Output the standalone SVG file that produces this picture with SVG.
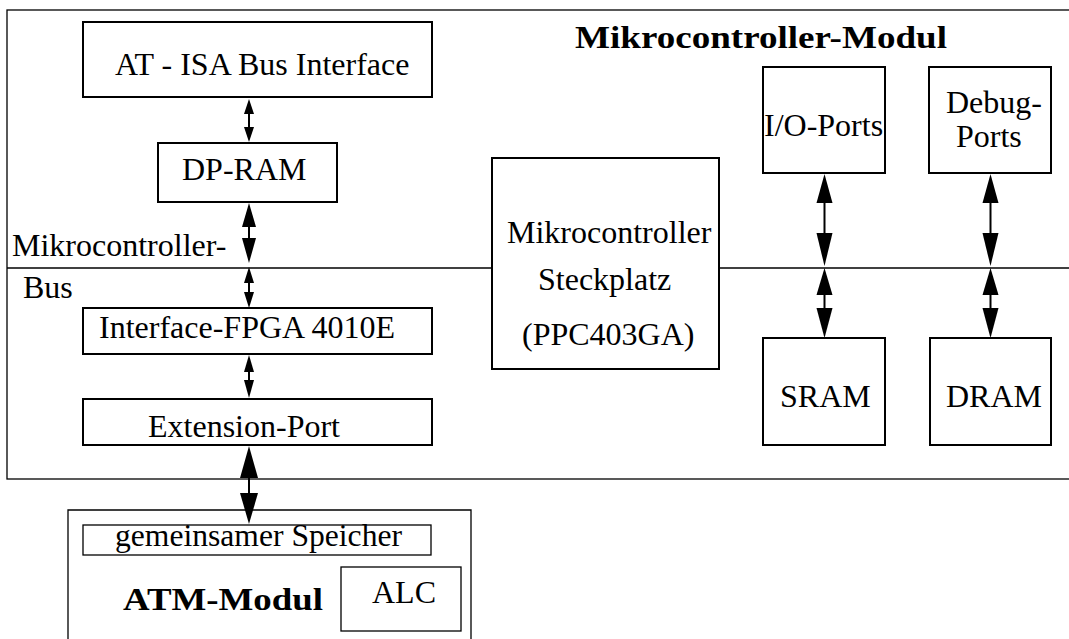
<svg xmlns="http://www.w3.org/2000/svg" width="1069" height="639" viewBox="0 0 1069 639">
<style>
.frame{fill:none;stroke:#000;stroke-width:1.3}
.box{fill:#fff;stroke:#000;stroke-width:2}
.thin{fill:#fff;stroke:#000;stroke-width:1.3}
.bus{stroke:#000;stroke-width:1.3;fill:none}
.shaft{stroke:#000;stroke-width:2;fill:none}
.head{fill:#000;stroke:none}
text{font-family:"Liberation Serif","Times New Roman",serif;fill:#000;font-size:32px}
.b{font-weight:bold}
</style>
<rect width="1069" height="639" fill="#fff"/>
<g id="mc-modul">
<rect class="frame" x="7" y="10" width="1075" height="469"/>
<text class="b" x="575" y="48" font-size="33" textLength="372" lengthAdjust="spacingAndGlyphs">Mikrocontroller-Modul</text>
</g>
<g id="bus">
<line class="bus" x1="7" y1="268" x2="492" y2="268"/>
<line class="bus" x1="719" y1="268" x2="1069" y2="268"/>
<text x="12" y="256">Mikrocontroller-</text>
<text x="23" y="298">Bus</text>
</g>
<g id="atm-modul">
<path class="frame" d="M68,645 V510 H471 V645"/>
<text class="b" x="123" y="610" font-size="33" textLength="200" lengthAdjust="spacingAndGlyphs">ATM-Modul</text>
</g>
<g id="at-isa">
<rect class="box" x="83" y="22" width="349" height="75"/>
<text x="115" y="75" font-size="31">AT - ISA Bus Interface</text>
</g>
<g id="dp-ram">
<rect class="box" x="158" y="143" width="179" height="59"/>
<text x="182" y="180" font-size="33">DP-RAM</text>
</g>
<g id="fpga">
<rect class="box" x="83" y="308" width="349" height="46"/>
<text x="99" y="338">Interface-FPGA 4010E</text>
</g>
<g id="ext-port">
<rect class="box" x="83" y="399" width="349" height="46"/>
<text x="148" y="437">Extension-Port</text>
</g>
<g id="mc-slot">
<rect class="box" x="492" y="158" width="227" height="211"/>
<text x="507" y="243">Mikrocontroller</text>
<text x="538" y="290">Steckplatz</text>
<text x="522" y="345">(PPC403GA)</text>
</g>
<g id="io-ports">
<rect class="box" x="763" y="67" width="122" height="106"/>
<text x="764" y="136">I/O-Ports</text>
</g>
<g id="debug-ports">
<rect class="box" x="929" y="67" width="122" height="106"/>
<text x="946" y="113">Debug-</text>
<text x="956" y="147">Ports</text>
</g>
<g id="sram">
<rect class="box" x="763" y="338" width="122" height="107"/>
<text x="780" y="407">SRAM</text>
</g>
<g id="dram">
<rect class="box" x="930" y="338" width="121" height="107"/>
<text x="946" y="407">DRAM</text>
</g>
<g id="gem-speicher">
<rect class="thin" x="83" y="525" width="348" height="30"/>
<text x="115" y="546" font-size="23" textLength="287" lengthAdjust="spacingAndGlyphs">gemeinsamer Speicher</text>
</g>
<g id="alc">
<rect class="thin" x="341" y="567" width="120" height="64"/>
<text x="372" y="603" font-size="28">ALC</text>
</g>
<g id="connectors">
<!-- AT-ISA <-> DP-RAM -->
<line class="shaft" x1="249" y1="110" x2="249" y2="130"/>
<path class="head" d="M249,99 L254,114 L244,114 Z"/>
<path class="head" d="M249,142 L254,127 L244,127 Z"/>
<!-- DP-RAM <-> Bus -->
<line class="shaft" x1="249" y1="222" x2="249" y2="243"/>
<path class="head" d="M249,203 L256,227 L242,227 Z"/>
<path class="head" d="M249,263 L256,238 L242,238 Z"/>
<!-- Bus <-> FPGA -->
<line class="shaft" x1="249" y1="280" x2="249" y2="295"/>
<path class="head" d="M249,267 L254,283 L244,283 Z"/>
<path class="head" d="M249,308 L254,292 L244,292 Z"/>
<!-- FPGA <-> Extension-Port -->
<line class="shaft" x1="249" y1="368" x2="249" y2="384"/>
<path class="head" d="M249,355 L254,372 L244,372 Z"/>
<path class="head" d="M249,398 L254,380 L244,380 Z"/>
<!-- Extension-Port <-> gemeinsamer Speicher -->
<line class="shaft" x1="249" y1="474" x2="249" y2="497"/>
<path class="head" d="M249,446 L258,478 L240,478 Z"/>
<path class="head" d="M249,524 L258,493 L240,493 Z"/>
<!-- I/O-Ports <-> Bus -->
<line class="shaft" x1="824.5" y1="198" x2="824.5" y2="238"/>
<path class="head" d="M824.5,174 L832.5,203 L816.5,203 Z"/>
<path class="head" d="M824.5,266 L832.5,233 L816.5,233 Z"/>
<!-- Bus <-> SRAM -->
<line class="shaft" x1="824.5" y1="290" x2="824.5" y2="313"/>
<path class="head" d="M824.5,268 L832.5,295 L816.5,295 Z"/>
<path class="head" d="M824.5,338 L832.5,308 L816.5,308 Z"/>
<!-- Debug-Ports <-> Bus -->
<line class="shaft" x1="990.5" y1="198" x2="990.5" y2="238"/>
<path class="head" d="M990.5,174 L998.5,203 L982.5,203 Z"/>
<path class="head" d="M990.5,266 L998.5,233 L982.5,233 Z"/>
<!-- Bus <-> DRAM -->
<line class="shaft" x1="990.5" y1="290" x2="990.5" y2="313"/>
<path class="head" d="M990.5,268 L998.5,295 L982.5,295 Z"/>
<path class="head" d="M990.5,338 L998.5,308 L982.5,308 Z"/>
</g>
</svg>
